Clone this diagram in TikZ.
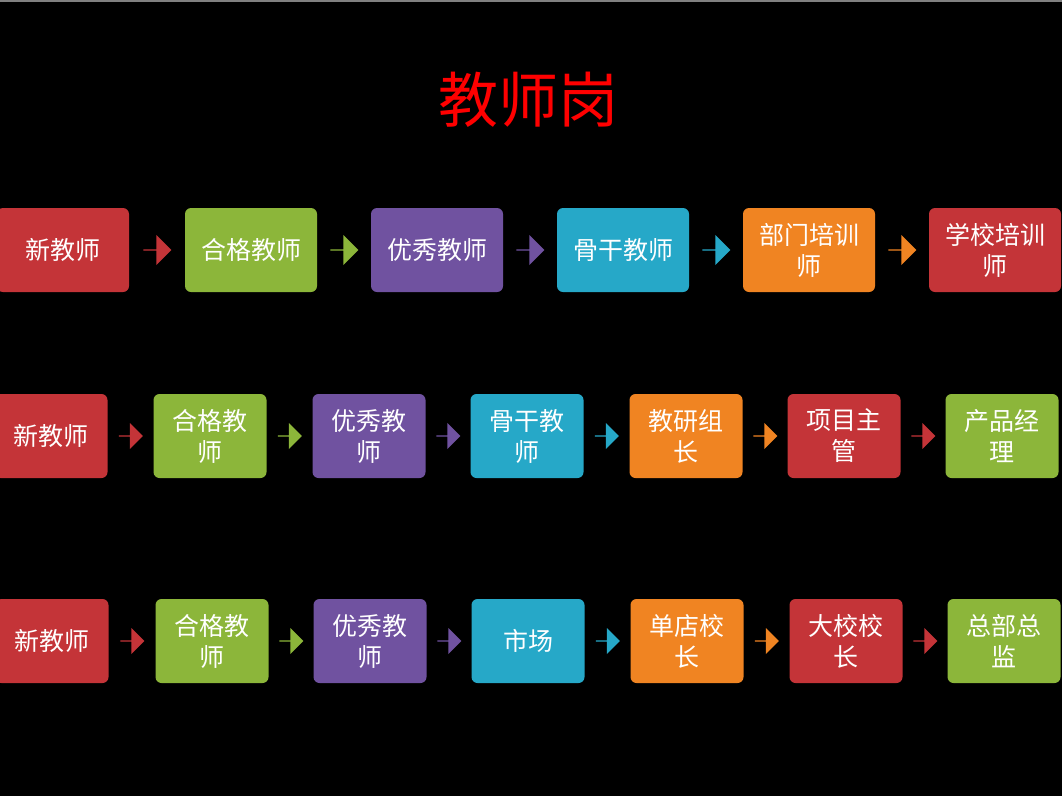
\documentclass[tikz,border=0pt]{standalone}
\usepackage{fontspec}
\newfontfamily\cjk{Noto Sans CJK SC}
\usetikzlibrary{shapes.arrows}
\definecolor{cr}{RGB}{196,52,56}
\definecolor{cg}{RGB}{140,182,58}
\definecolor{cp}{RGB}{112,82,160}
\definecolor{cc}{RGB}{38,168,200}
\definecolor{co}{RGB}{240,132,34}
\tikzset{
 box/.style={rounded corners=6pt,minimum height=84pt,align=center,text=white,font=\cjk\fontsize{25}{31}\selectfont,inner sep=0pt},
 arr/.style={single arrow,single arrow head extend=4pt,minimum height=28pt,minimum width=30pt,inner sep=0pt,fill=#1,draw=none}
}
\begin{document}
\begin{tikzpicture}[x=1pt,y=-1pt]
\fill[black] (0,0) rectangle (1062,796);
\useasboundingbox (0,0) rectangle (1062,796);
\fill[gray] (0,0) rectangle (1062,2);
\node[text=red,font=\cjk\fontsize{60}{70}\selectfont] (t) at (528,100) {教师岗};
% row 1
\foreach \n/\x/\c/\t [count=\i] in {a/63/cr/新教师,b/251/cg/合格教师,c/437/cp/优秀教师,d/623/cc/骨干教师,e/809/co/部门培训\\师,f/995/cr/学校培训\\师}{
 \node[box,fill=\c,minimum width=132pt] (r1\n) at (\x,250) {\t};}
\foreach \p/\q/\c in {a/b/cr,b/c/cg,c/d/cp,d/e/cc,e/f/co}{
 \path (r1\p.east) -- (r1\q.west) node[midway,arr=\c] (r1\p\q) {};}
% row 2
\foreach \n/\x/\c/\t in {a/51/cr/新教师,b/210/cg/合格教\\师,c/369/cp/优秀教\\师,d/527/cc/骨干教\\师,e/686/co/教研组\\长,f/844/cr/项目主\\管,g/1002/cg/产品经\\理}{
 \node[box,fill=\c,minimum width=113pt] (r2\n) at (\x,436) {\t};}
\foreach \p/\q/\c in {a/b/cr,b/c/cg,c/d/cp,d/e/cc,e/f/co,f/g/cr}{
 \path (r2\p.east) -- (r2\q.west) node[midway,arr=\c,minimum height=24pt,minimum width=26pt] (r2\p\q) {};}
% row 3
\foreach \n/\x/\c/\t in {a/52/cr/新教师,b/212/cg/合格教\\师,c/370/cp/优秀教\\师,d/528/cc/市场,e/687/co/单店校\\长,f/846/cr/大校校\\长,g/1004/cg/总部总\\监}{
 \node[box,fill=\c,minimum width=113pt] (r3\n) at (\x,641) {\t};}
\foreach \p/\q/\c in {a/b/cr,b/c/cg,c/d/cp,d/e/cc,e/f/co,f/g/cr}{
 \path (r3\p.east) -- (r3\q.west) node[midway,arr=\c,minimum height=24pt,minimum width=26pt] (r3\p\q) {};}
\end{tikzpicture}
\end{document}
